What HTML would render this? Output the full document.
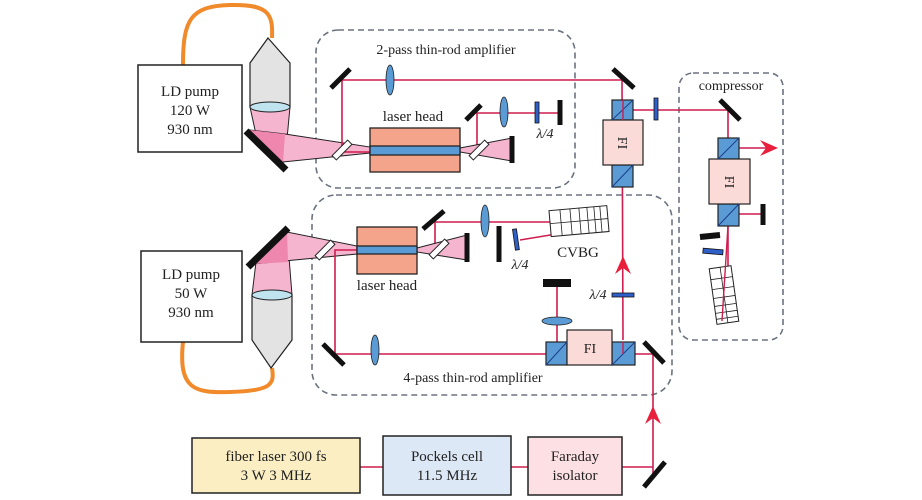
<!DOCTYPE html>
<html><head><meta charset="utf-8"><style>
html,body{margin:0;padding:0;background:#fff;}
svg{display:block;}
text{font-family:"Liberation Serif",serif;fill:#222;}
</style></head><body>
<svg width="922" height="500" viewBox="0 0 922 500" xmlns="http://www.w3.org/2000/svg">
<g fill="none" stroke="#6b7280" stroke-width="1.6" stroke-dasharray="6,4">
<rect x="316" y="30" width="259" height="158" rx="22"/>
<rect x="312" y="195" width="360" height="200" rx="24"/>
<rect x="679" y="73" width="104" height="267" rx="14"/>
</g>
<text x="446" y="54" font-size="14" text-anchor="middle">2-pass thin-rod amplifier</text>
<text x="473" y="382" font-size="14" text-anchor="middle">4-pass thin-rod amplifier</text>
<text x="731" y="90" font-size="14" text-anchor="middle">compressor</text>

<path d="M183,65 C183,20 190,6 230,5 C270,4 273,15 272,38" fill="none" stroke="#f08a2a" stroke-width="4"/>
<path d="M183,342 C178,390 195,393 230,392 C270,391 275,385 272,368" fill="none" stroke="#f08a2a" stroke-width="4"/>

<rect x="138" y="65" width="104" height="87" fill="#fff" stroke="#222" stroke-width="1.5"/>
<text x="190" y="96" font-size="15" text-anchor="middle">LD pump</text>
<text x="190" y="115" font-size="15" text-anchor="middle">120 W</text>
<text x="190" y="134" font-size="15" text-anchor="middle">930 nm</text>
<rect x="141" y="251" width="101" height="91" fill="#fff" stroke="#222" stroke-width="1.5"/>
<text x="191" y="279" font-size="15" text-anchor="middle">LD pump</text>
<text x="191" y="298" font-size="15" text-anchor="middle">50 W</text>
<text x="191" y="317" font-size="15" text-anchor="middle">930 nm</text>

<polygon points="268,38 290,63 290,107 250,107 250,63" fill="#e3e3e3" stroke="#222" stroke-width="1.2"/>
<polygon points="250,107 290,107 285,160 255,130" fill="#f6b5cf" stroke="#222" stroke-width="1"/>
<polygon points="250,130 285,134 370,147 370,153 283,162" fill="#f6b5cf" stroke="#222" stroke-width="1"/>
<polygon points="250,130 285,134 283,162" fill="#ee86ad"/>
<ellipse cx="270" cy="107" rx="20" ry="5" fill="#bfe3ef" stroke="#222" stroke-width="1"/>
<line x1="246" y1="131" x2="286" y2="170" stroke="#111" stroke-width="7"/>
<polygon points="271,368 292,340 292,295 252,295 252,340" fill="#e3e3e3" stroke="#222" stroke-width="1.2"/>
<polygon points="252,295 292,295 287,232 256,262" fill="#f6b5cf" stroke="#222" stroke-width="1"/>
<polygon points="253,264 287,232 357,246 357,254" fill="#f6b5cf" stroke="#222" stroke-width="1"/>
<polygon points="253,264 287,232 288,262" fill="#ee86ad"/>
<ellipse cx="272" cy="295" rx="20" ry="5" fill="#bfe3ef" stroke="#222" stroke-width="1"/>
<line x1="248" y1="267" x2="288" y2="228" stroke="#111" stroke-width="7"/>

<g fill="none" stroke="#cf1d4e" stroke-width="1.6">
<polyline points="370,152 342,152 342,80 622,80 623,340"/>
<polyline points="460,150 477,150 477,113 560,113"/>
<polyline points="623,110 728,110 728,138"/>
<line x1="728" y1="226" x2="728" y2="320"/>
<line x1="739" y1="214" x2="762" y2="214"/>
<polyline points="357,250 335,250 335,354 546,354"/>
<polyline points="417,250 435,250 435,222 605,222"/>
<line x1="605" y1="226" x2="520" y2="240"/>
<polyline points="557,342 557,283"/>
<polyline points="635,354 653,354 653,475"/>
<line x1="360" y1="467" x2="383" y2="467"/>
<line x1="511" y1="467" x2="528" y2="467"/>
<line x1="622" y1="467" x2="653" y2="467"/>
<line x1="739" y1="148" x2="770" y2="148"/>
</g>
<g fill="#e8203c">
<polygon points="623,256 631,274 623,268 615,274"/>
<polygon points="653,406 661,424 653,418 645,424"/>
<polygon points="778,148 760,156 766,148 760,140"/>
</g>

<polygon points="460,148 512,138 512,161 460,152" fill="#f6b5cf" stroke="#222" stroke-width="1"/>
<line x1="512" y1="136" x2="512" y2="163" stroke="#111" stroke-width="5"/>
<polygon points="417,248 467,235 467,260 417,252" fill="#f6b5cf" stroke="#222" stroke-width="1"/>
<line x1="467" y1="233" x2="467" y2="262" stroke="#111" stroke-width="5"/>

<rect x="370" y="128" width="90" height="44" fill="#f4a48a" stroke="#222" stroke-width="1.3"/>
<rect x="370" y="146" width="90" height="9" fill="#5b9bd5" stroke="#222" stroke-width="1.3"/>
<text x="413" y="121" font-size="15" text-anchor="middle">laser head</text>
<rect x="357" y="227" width="60" height="47" fill="#f4a48a" stroke="#222" stroke-width="1.3"/>
<rect x="357" y="246" width="60" height="8" fill="#5b9bd5" stroke="#222" stroke-width="1.3"/>
<text x="387" y="290" font-size="15" text-anchor="middle">laser head</text>

<g fill="#fff" stroke="#222" stroke-width="1">
<rect x="-3" y="-11" width="6" height="22" transform="translate(342,150) rotate(45)"/>
<rect x="-3" y="-11" width="6" height="22" transform="translate(479,150) rotate(45)"/>
<rect x="-3" y="-11" width="6" height="22" transform="translate(325,250) rotate(45)"/>
<rect x="-3" y="-11" width="6" height="22" transform="translate(439,249) rotate(45)"/>
</g>

<g stroke="#111" stroke-width="5">
<line x1="331" y1="88" x2="350" y2="69"/>
<line x1="466" y1="120" x2="481" y2="105"/>
<line x1="560" y1="100" x2="560" y2="125"/>
<line x1="613" y1="69" x2="634" y2="88"/>
<line x1="720" y1="100" x2="740" y2="120"/>
<line x1="763" y1="204" x2="763" y2="225"/>
<line x1="423" y1="229" x2="444" y2="211"/>
<line x1="499" y1="226" x2="499" y2="262"/>
<line x1="323" y1="344" x2="344" y2="365"/>
<line x1="644" y1="342" x2="664" y2="363"/>
<line x1="644" y1="487" x2="665" y2="462"/>
<line x1="543" y1="283" x2="571" y2="283" stroke-width="8"/>
<line x1="700" y1="237" x2="720" y2="235" stroke-width="6"/>
</g>

<g fill="#5b9bd5" stroke="#222" stroke-width="0.8">
<ellipse cx="390" cy="80" rx="4" ry="15"/>
<ellipse cx="504" cy="112" rx="4" ry="15"/>
<ellipse cx="485" cy="221" rx="4" ry="16"/>
<ellipse cx="375" cy="350" rx="4" ry="15"/>
<ellipse cx="557" cy="321" rx="15" ry="4"/>
</g>
<g fill="#2f5fc8" stroke="#111" stroke-width="0.8">
<rect x="535" y="102" width="4" height="21"/>
<rect x="654" y="98" width="4" height="22"/>
<rect x="514" y="229" width="4" height="21" transform="rotate(-8 516 240)"/>
<rect x="612" y="293" width="22" height="4"/>
<rect x="703" y="249" width="20" height="5" transform="rotate(5 713 251)"/>
</g>
<text x="545" y="138" font-size="14" text-anchor="middle" font-style="italic">λ/4</text>
<text x="520" y="269" font-size="14" text-anchor="middle" font-style="italic">λ/4</text>
<text x="598" y="299" font-size="14" text-anchor="middle" font-style="italic">λ/4</text>
<text x="578" y="257" font-size="15" text-anchor="middle">CVBG</text>

<g transform="rotate(-5 580 221)">
<rect x="550" y="208" width="58" height="26" fill="#fff" stroke="#222" stroke-width="1"/>
<g stroke="#222" stroke-width="0.8">
<line x1="561" y1="208" x2="561" y2="234"/><line x1="571" y1="208" x2="571" y2="234"/>
<line x1="580" y1="208" x2="580" y2="234"/><line x1="588" y1="208" x2="588" y2="234"/>
<line x1="595" y1="208" x2="595" y2="234"/><line x1="601" y1="208" x2="601" y2="234"/>
<line x1="550" y1="221" x2="608" y2="221"/>
</g></g>
<g transform="rotate(-8 724 295)">
<rect x="713" y="267" width="22" height="56" fill="#fff" stroke="#222" stroke-width="1"/>
<g stroke="#222" stroke-width="0.8">
<line x1="713" y1="278" x2="735" y2="278"/><line x1="713" y1="288" x2="735" y2="288"/>
<line x1="713" y1="297" x2="735" y2="297"/><line x1="713" y1="305" x2="735" y2="305"/>
<line x1="713" y1="312" x2="735" y2="312"/><line x1="713" y1="318" x2="735" y2="318"/>
<line x1="724" y1="267" x2="724" y2="323"/>
</g></g>
<line x1="728" y1="226" x2="722" y2="321" stroke="#cf1d4e" stroke-width="1.4"/>

<g stroke="#222" stroke-width="1.2">
<rect x="612" y="100" width="21" height="20" fill="#5b9bd5"/>
<rect x="612" y="165" width="21" height="22" fill="#5b9bd5"/>
<rect x="603" y="120" width="40" height="45" fill="#fadbd8"/>
<rect x="718" y="138" width="21" height="21" fill="#5b9bd5"/>
<rect x="718" y="204" width="21" height="22" fill="#5b9bd5"/>
<rect x="709" y="159" width="41" height="45" fill="#fadbd8"/>
<rect x="546" y="342" width="21" height="23" fill="#5b9bd5"/>
<rect x="612" y="342" width="23" height="23" fill="#5b9bd5"/>
<rect x="567" y="330" width="45" height="35" fill="#fadbd8"/>
</g>
<g stroke="#1a3e8a" stroke-width="1">
<line x1="612" y1="120" x2="633" y2="100"/><line x1="612" y1="187" x2="633" y2="165"/>
<line x1="718" y1="159" x2="739" y2="138"/><line x1="718" y1="226" x2="739" y2="204"/>
<line x1="546" y1="365" x2="567" y2="342"/><line x1="612" y1="365" x2="635" y2="342"/>
</g>
<line x1="623" y1="100" x2="623" y2="120" stroke="#cf1d4e" stroke-width="1.4"/>
<line x1="623" y1="342" x2="623" y2="354" stroke="#cf1d4e" stroke-width="1.4"/>
<text font-size="14" text-anchor="middle" transform="translate(618,143) rotate(90)">FI</text>
<text font-size="14" text-anchor="middle" transform="translate(725,182) rotate(90)">FI</text>
<text x="590" y="353" font-size="14" text-anchor="middle">FI</text>

<rect x="192" y="438" width="168" height="55" fill="#fbeec3" stroke="#222" stroke-width="1.5"/>
<text x="276" y="461" font-size="15" text-anchor="middle">fiber laser 300 fs</text>
<text x="276" y="480" font-size="15" text-anchor="middle">3 W 3 MHz</text>
<rect x="383" y="436" width="128" height="59" fill="#dde8f6" stroke="#222" stroke-width="1.5"/>
<text x="447" y="461" font-size="15" text-anchor="middle">Pockels cell</text>
<text x="447" y="480" font-size="15" text-anchor="middle">11.5 MHz</text>
<rect x="528" y="437" width="94" height="58" fill="#fde0e3" stroke="#222" stroke-width="1.5"/>
<text x="575" y="461" font-size="15" text-anchor="middle">Faraday</text>
<text x="575" y="480" font-size="15" text-anchor="middle">isolator</text>
</svg>
</body></html>
